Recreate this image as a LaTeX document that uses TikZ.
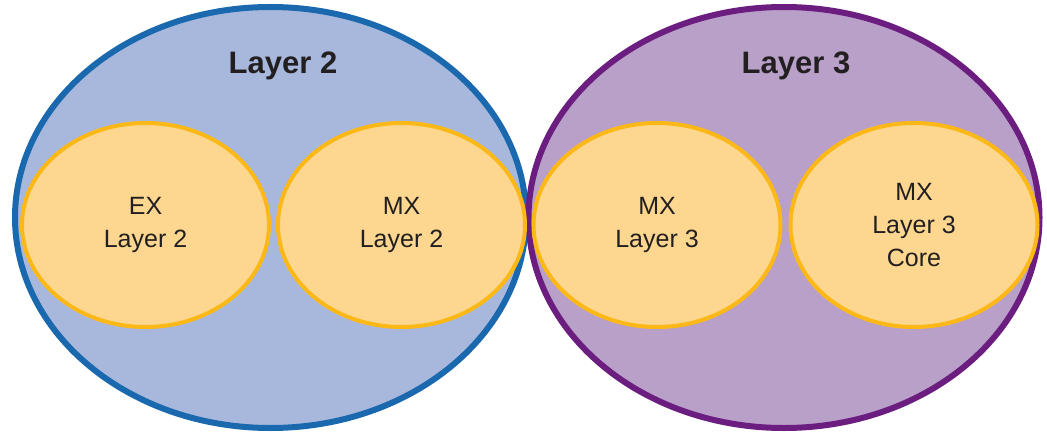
\documentclass[tikz,border=0pt]{standalone}
\usepackage{fontspec}
\setmainfont{Liberation Sans}
\usetikzlibrary{shapes.geometric}

\definecolor{blueline}{HTML}{1A68AE}
\definecolor{bluefill}{HTML}{A8B8DC}
\definecolor{purpleline}{HTML}{6B1E7F}
\definecolor{purplefill}{HTML}{B9A0C9}
\definecolor{orangeline}{HTML}{FBB817}
\definecolor{orangefill}{HTML}{FDD78F}
\definecolor{textdark}{HTML}{231F20}

\begin{document}
\begin{tikzpicture}[x=1pt,y=-1pt]
\useasboundingbox (0,0) rectangle (1047,433);

\coordinate (C2) at (270.5, 217.5);
\coordinate (C3) at (784, 217.5);
\coordinate (E1) at (145.5, 225);
\coordinate (E2) at (401.5, 225);
\coordinate (E3) at (657, 225);
\coordinate (E4) at (914, 225);


\tikzset{OuterStyle/.style = {
 shape = ellipse,
 line width = 6pt,
 inner sep = 0pt,
 minimum width = 511pt,
 minimum height = 421pt} }

\node[OuterStyle, draw=blueline, fill=bluefill] (L2) at (C2) {};
\node[OuterStyle, draw=purpleline, fill=purplefill] (L3) at (C3) {};

\node[font=\fontsize{31}{33}\selectfont\bfseries, text=textdark] (T2) at (283, 66) {Layer 2};
\node[font=\fontsize{31}{33}\selectfont\bfseries, text=textdark] (T3) at (796, 66) {Layer 3};


\tikzset{InnerStyle/.style = {
 shape = ellipse,
 draw = orangeline,
 fill = orangefill,
 line width = 4pt,
 inner sep = 0pt,
 text = textdark,
 align = center,
 font = \fontsize{25}{33}\selectfont,
 minimum width = 247pt,
 minimum height = 204pt} }

\node[InnerStyle] (EX2) at (E1) {EX\\Layer 2};
\node[InnerStyle] (MX2) at (E2) {MX\\Layer 2};
\node[InnerStyle] (MX3) at (E3) {MX\\Layer 3};
\node[InnerStyle] (MX3C) at (E4) {MX\\Layer 3\\Core};

\end{tikzpicture}
\end{document}
